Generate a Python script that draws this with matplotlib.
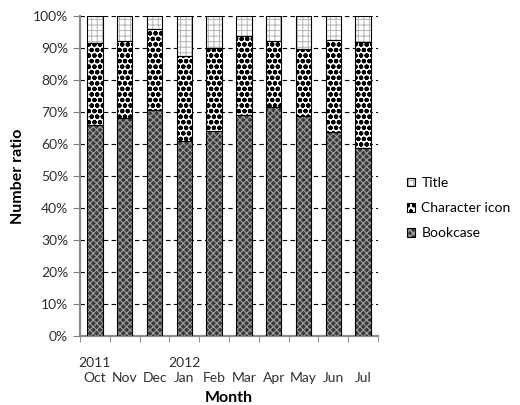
import matplotlib
matplotlib.use("Agg")
import matplotlib.pyplot as plt
from matplotlib.patches import Patch
from matplotlib.legend_handler import HandlerTuple
from matplotlib.ticker import FixedLocator, PercentFormatter

months = ["Oct", "Nov", "Dec", "Jan", "Feb", "Mar", "Apr", "May", "Jun", "Jul"]
years = ["2011", "", "", "2012", "", "", "", "", "", ""]
bookcase = [66.0, 68.1, 70.7, 61.0, 64.2, 69.2, 71.6, 68.9, 63.9, 58.9]
character_icon = [25.6, 24.1, 25.2, 26.6, 25.8, 24.7, 20.6, 20.9, 28.6, 33.1]
title = [100 - b - c for b, c in zip(bookcase, character_icon)]

plt.rcParams["font.family"] = ["Lato", "DejaVu Sans"]

fig = plt.figure(figsize=(5.2, 4.05), dpi=100)
ax = fig.add_axes([80 / 520, 69 / 405, 298 / 520, 320 / 405])
ax.set_axisbelow(True)

x = list(range(len(months)))
width = 0.52

# name, values, face colour, pattern colour, hatch, pattern line width
styles = [
    ("Bookcase", bookcase, "#3a3a3a", "#a0a0a0", "xxxxx", 0.8),
    ("Character icon", character_icon, "white", "black", "ooo", 1.5),
    ("Title", title, "white", "#b4b4b4", "+++", 0.7),
]

bottom = [0.0] * len(months)
handles = []
for name, vals, face, hcol, hatch, hlw in styles:
    with plt.rc_context({"hatch.linewidth": hlw}):
        ax.bar(x, vals, width, bottom=bottom, color=face, edgecolor=hcol,
               hatch=hatch, linewidth=0, zorder=3)
        fill_patch = Patch(facecolor=face, edgecolor=hcol, hatch=hatch,
                           linewidth=0)
    ax.bar(x, vals, width, bottom=bottom, fill=False, edgecolor="black",
           linewidth=0.8, zorder=4)
    border_patch = Patch(fill=False, edgecolor="black", linewidth=0.8)
    handles.append((fill_patch, border_patch))
    bottom = [b + v for b, v in zip(bottom, vals)]

ax.set_xlim(-0.48, 9.26)
ax.set_ylim(0, 100)
ax.yaxis.set_major_locator(FixedLocator(range(0, 101, 10)))
ax.yaxis.set_major_formatter(PercentFormatter(decimals=0))
ax.yaxis.grid(True, linestyle=(0, (4, 3)), color="black", linewidth=0.8)

ax.set_xticks(x)
ax.set_xticklabels([f"{y}\n{m}" if y else f"\n{m}"
                    for y, m in zip(years, months)],
                   multialignment="center", linespacing=1.35)
ax.set_xticks([i + 0.5 for i in range(-1, len(months))], minor=True)
ax.tick_params(axis="x", which="major", length=0, pad=15, labelsize=10,
               labelcolor="#303030")
ax.tick_params(axis="x", which="minor", length=4, color="#808080",
               direction="out")
ax.tick_params(axis="y", length=5, color="#808080", direction="out",
               labelsize=10, labelcolor="#303030")

for side in ("top", "right"):
    ax.spines[side].set_visible(False)
for side in ("left", "bottom"):
    ax.spines[side].set_color("#8c8c8c")
    ax.spines[side].set_linewidth(1.6)

ax.set_ylabel("Number ratio", fontsize=11.5, fontweight="bold", labelpad=6)
ax.set_xlabel("Month", fontsize=11.5, fontweight="bold", labelpad=5)

leg = ax.legend(handles[::-1], ["Title", "Character icon", "Bookcase"],
                handler_map={tuple: HandlerTuple(ndivide=1)},
                loc="center left", bbox_to_anchor=(1.097, 0.40),
                frameon=False, borderaxespad=0,
                fontsize=10, handlelength=0.6, handleheight=0.6,
                handletextpad=0.45, labelspacing=0.95, borderpad=0)

fig.savefig("out.png", dpi=100)
